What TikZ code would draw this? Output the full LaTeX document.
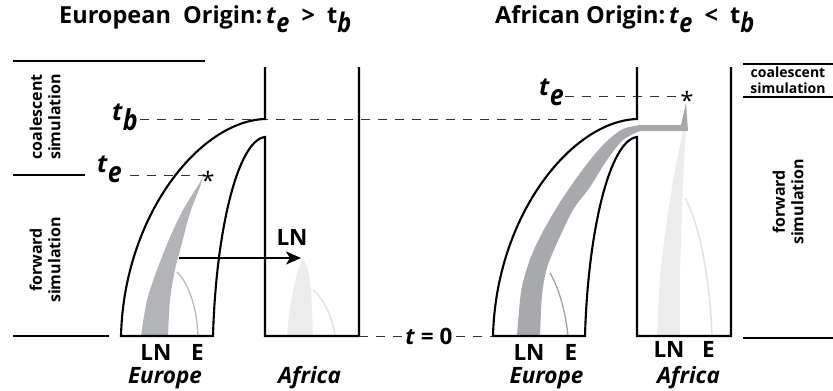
\documentclass[tikz,border=0pt]{standalone}
\usepackage{fontspec}
\setmainfont{Open Sans}
\usetikzlibrary{arrows.meta}
\definecolor{bandA}{RGB}{178,180,183}
\definecolor{bandB}{RGB}{167,169,172}
\definecolor{lightband}{RGB}{236,236,236}
\definecolor{elineA}{RGB}{185,185,188}
\definecolor{elineB}{RGB}{160,162,165}
\definecolor{elineC}{RGB}{226,226,226}
\newcommand\sbx[1]{\raisebox{-0.42em}{\scalebox{1}[1.15]{\itshape #1}}}
\begin{document}
\begin{tikzpicture}[x=1pt,y=-1pt,
  outline/.style={line width=2.1pt, line join=miter},
  rule/.style={line width=2pt},
  dashln/.style={line width=0.9pt, dash pattern=on 9pt off 8pt, black!80},
  lab/.style={font=\fontsize{22.5}{24}\selectfont\bfseries, inner sep=0pt},
  ilab/.style={font=\fontsize{22.5}{24}\selectfont\bfseries\itshape, inner sep=0pt},
  tlab/.style={font=\fontsize{23.5}{25}\selectfont\bfseries, inner sep=0pt},
  tvar/.style={font=\fontsize{25}{26}\selectfont\bfseries, inner sep=0pt},
  sim/.style={font=\fontsize{16}{18.5}\selectfont\bfseries, align=center, inner sep=0pt},
  star/.style={font=\fontsize{24}{24}\selectfont, inner sep=0pt}]
\useasboundingbox (0,0) rectangle (833,391);

% ---------- titles
\node[tlab, anchor=base west] (titleL) at (59,23) {European\ \ Origin:\,\textit{t}\sbx{e}\ \ >\ \ t\sbx{b}};
\node[tlab, anchor=base west] (titleR) at (495,23) {African Origin:\,\textit{t}\sbx{e}\ \ <\ \ t\sbx{b}};

% ---------- side rules and simulation labels
\draw[rule] (13,61) -- (205,61);
\draw[rule] (13,175) -- (85,175);
\draw[rule] (13,336) -- (109,336);
\draw[rule] (743,64) -- (833,64);
\draw[rule] (743,97) -- (833,97);
\draw[rule] (743,338) -- (833,338);
\node[sim, rotate=90] (coalL) at (45,117) {coalescent\\simulation};
\node[sim, rotate=90] (fwdL) at (45,260) {forward\\simulation};
\node[sim, font=\fontsize{14}{16.5}\selectfont\bfseries] (coalR) at (788,80) {coalescent\\simulation};
\node[sim, rotate=90] (fwdR) at (788,202) {forward\\simulation};

% ---------- left scenario: lineages
\fill[bandA] plot[smooth] coordinates {(141,336) (147,300) (157,270) (170,237) (183,210) (197,187) (203,178)}
  -- plot[smooth] coordinates {(203,178) (200,187) (190,213) (182,243) (175,270) (170,300) (168,336)} -- cycle;
\draw[elineA, line width=1.3pt] (177,272) .. controls (190,285) and (197,310) .. (198,336);
\fill[lightband] plot[smooth] coordinates {(287,336) (289,315) (292,297) (297,273) (303,258)}
  -- plot[smooth] coordinates {(303,258) (308,270) (311,290) (312,310) (313,336)} -- cycle;
\draw[elineC, line width=1.5pt] (313,290) .. controls (325,300) and (333,320) .. (335,336);

% ---------- right scenario: lineages
\fill[lightband] plot[smooth] coordinates {(657,336) (660,277) (667,220) (675,170) (683,131)}
  -- plot[smooth] coordinates {(686,131) (684,160) (682,210) (680,277) (680,336)} -- cycle;
\fill[bandB] plot[smooth] coordinates {(517,336) (521,292) (529,262) (540,237) (557,207) (573,183) (590,160) (607,141) (623,129) (640,125)}
  -- (681,125) -- (686,103) -- (688,131)
  -- plot[smooth] coordinates {(640,131) (623,140) (607,160) (590,187) (573,210) (557,243) (547,268) (542,295) (540,336)} -- cycle;
\draw[elineB, line width=1.3pt] (550,273) .. controls (560,290) and (566,315) .. (568,336);
\draw[elineC, line width=1.5pt] (685,198) .. controls (700,225) and (710,280) .. (712,336);

% ---------- dashed time lines
\coordinate (tbStart) at (140,119);
\coordinate (tbEnd) at (607,119);
\draw[dashln] (tbStart) -- (tbEnd);
\coordinate (teLStart) at (130,175);
\coordinate (teLEnd) at (202,175);
\draw[dashln] (teLStart) -- (teLEnd);
\coordinate (teRStart) at (565,96);
\coordinate (teREnd) at (680,96);
\draw[dashln] (teRStart) -- (teREnd);

% ---------- outlines
\draw[outline] (265,67) -- (265,119) .. controls (200,121) and (124,215) .. (121,336) -- (213,336)
  .. controls (216,230) and (238,140) .. (265,137) -- (265,336) -- (359,336) -- (359,67);
\draw[outline] (637,67) -- (637,119) .. controls (572,121) and (496,215) .. (493,336) -- (585,336)
  .. controls (588,230) and (610,140) .. (637,137) -- (637,336) -- (731,336) -- (731,67);
\coordinate (afrLcorner) at (359,336);
\coordinate (eurRcorner) at (493,336);

% ---------- t = 0
\node[lab, inner xsep=3pt] (tzero) at (429,336) {\textit{t} = 0};
\draw[dashln] (afrLcorner) -- (tzero.west);
\draw[dashln] (tzero.east) -- (eurRcorner);

% ---------- time labels and asterisks
\node[tvar, anchor=base west] (tbL) at (112,120) {\textit{t}\sbx{b}};
\node[tvar, anchor=base west] (teL) at (97,172) {\textit{t}\sbx{e}};
\node[tvar, anchor=base west] (teR) at (539,95) {\textit{t}\sbx{e}};
\node[star, anchor=north] (astL) at (208,171) {*};
\node[star, anchor=north] (astR) at (687,91) {*};

% ---------- migration arrow
\coordinate (arrS) at (179,258);
\coordinate (arrE) at (301,258);
\draw[line width=2pt, -{Stealth[length=15pt,width=13pt,inset=4pt]}] (arrS) -- (arrE);
\node[lab, anchor=base] (lnArrow) at (292,245) {LN};

% ---------- bottom labels
\node[lab, anchor=base] (lnL) at (156,360) {LN};
\node[lab, anchor=base] (eL) at (197.5,360) {E};
\node[ilab, anchor=base] (europeL) at (165,383) {Europe};
\node[ilab, anchor=base] (africaL) at (309.5,383) {Africa};
\node[lab, anchor=base] (lnR) at (529,360) {LN};
\node[lab, anchor=base] (eR) at (571,360) {E};
\node[ilab, anchor=base] (europeR) at (546.5,383) {Europe};
\node[lab, anchor=base] (lnRA) at (669,357) {LN};
\node[lab, anchor=base] (eRA) at (708.5,357) {E};
\node[ilab, anchor=base] (africaR) at (688.5,383) {Africa};
\end{tikzpicture}
\end{document}
